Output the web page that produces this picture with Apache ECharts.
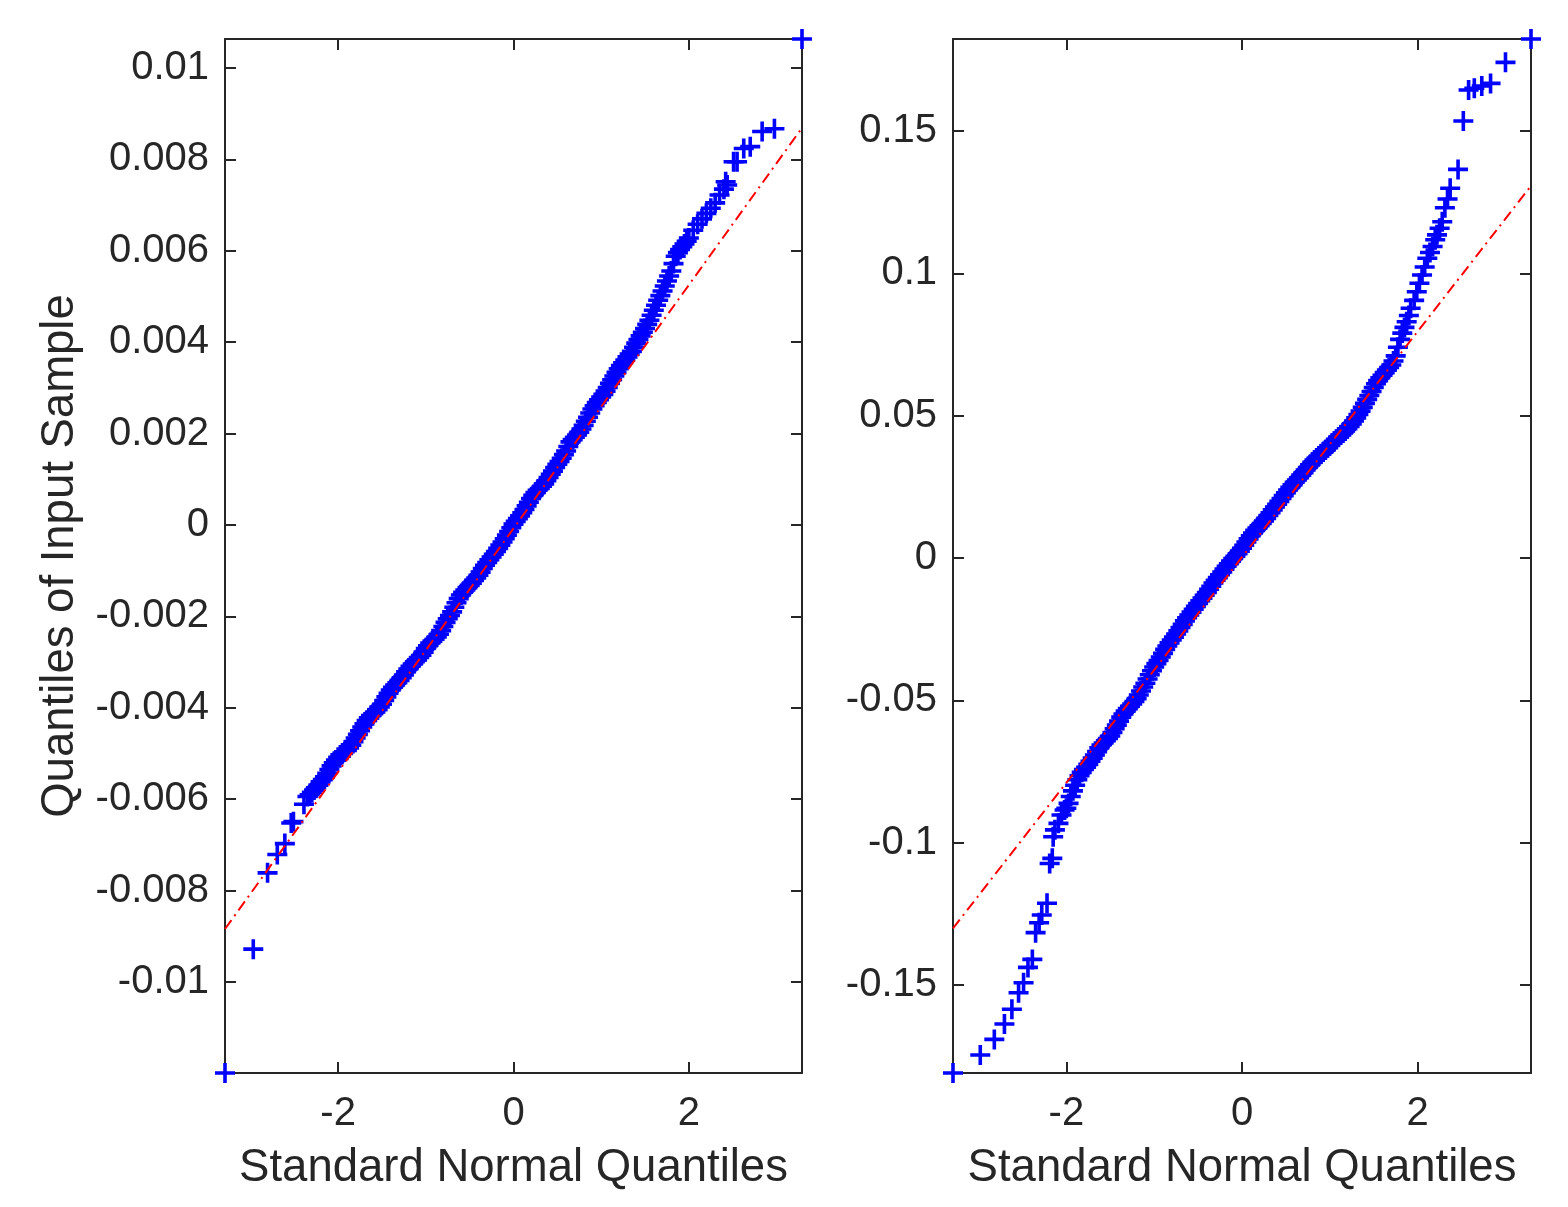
<!DOCTYPE html>
<html>
<head>
<meta charset="utf-8">
<style>
  html, body { margin: 0; padding: 0; background: #fff; }
  #container { width: 1568px; height: 1207px; }
</style>
<script src="https://cdn.jsdelivr.net/npm/echarts@6/dist/echarts.min.js"></script>
</head>
<body>
<div id="container"></div>
<script>
var dom = document.getElementById('container');
var myChart = echarts.init(dom, null, { renderer: 'canvas' });

// x range of the theoretical quantiles (n = 1000)
const xMin = -3.2905;
const xMax = 3.2905;
const xTicks = [-2, 0, 2];
const xTickLabels = ['-2', '0', '2'];

// left panel: sorted sample vs standard normal quantiles
const leftYTicks = [-0.01, -0.008, -0.006, -0.004, -0.002, 0, 0.002, 0.004, 0.006, 0.008, 0.01];
const leftYLabels = ['-0.01', '-0.008', '-0.006', '-0.004', '-0.002', '0', '0.002', '0.004', '0.006', '0.008', '0.01'];
const leftYMin = -0.01199;
const leftYMax = 0.010635;
const leftPoints = [
  [-3.2905, -0.01199], [-2.968, -0.00928], [-2.805, -0.00761], [-2.694, -0.00721],
  [-2.608, -0.00697], [-2.535, -0.00652], [-2.51, -0.00649], [-2.39, -0.00611],
  [-2.350, -0.00594], [-2.325, -0.00590], [-2.300, -0.00585], [-2.275, -0.00580],
  [-2.250, -0.00575], [-2.225, -0.00569], [-2.200, -0.00562], [-2.175, -0.00557],
  [-2.150, -0.00551], [-2.125, -0.00543], [-2.100, -0.00535], [-2.075, -0.00527],
  [-2.050, -0.00520], [-2.025, -0.00514], [-2.000, -0.00508], [-1.975, -0.00503],
  [-1.950, -0.00499], [-1.925, -0.00496], [-1.900, -0.00493], [-1.875, -0.00488],
  [-1.850, -0.00482], [-1.825, -0.00474], [-1.800, -0.00466], [-1.775, -0.00458],
  [-1.750, -0.00450], [-1.725, -0.00442], [-1.700, -0.00435], [-1.675, -0.00428],
  [-1.650, -0.00422], [-1.625, -0.00417], [-1.600, -0.00413], [-1.575, -0.00409],
  [-1.550, -0.00404], [-1.525, -0.00398], [-1.500, -0.00392], [-1.475, -0.00384],
  [-1.450, -0.00376], [-1.425, -0.00368], [-1.400, -0.00361], [-1.375, -0.00355],
  [-1.350, -0.00350], [-1.325, -0.00345], [-1.300, -0.00340], [-1.275, -0.00334],
  [-1.250, -0.00328], [-1.225, -0.00321], [-1.200, -0.00315], [-1.175, -0.00309],
  [-1.150, -0.00304], [-1.125, -0.00299], [-1.100, -0.00295], [-1.075, -0.00290],
  [-1.050, -0.00285], [-1.025, -0.00278], [-1.000, -0.00270], [-0.975, -0.00264],
  [-0.950, -0.00258], [-0.925, -0.00254], [-0.900, -0.00250], [-0.875, -0.00245],
  [-0.850, -0.00239], [-0.825, -0.00231], [-0.800, -0.00222], [-0.775, -0.00213],
  [-0.750, -0.00205], [-0.725, -0.00198], [-0.700, -0.00190], [-0.675, -0.00180],
  [-0.650, -0.00170], [-0.625, -0.00161], [-0.600, -0.00153], [-0.575, -0.00147],
  [-0.550, -0.00142], [-0.525, -0.00137], [-0.500, -0.00132], [-0.475, -0.00127],
  [-0.450, -0.00121], [-0.425, -0.00116], [-0.400, -0.00110], [-0.375, -0.00103],
  [-0.350, -0.00095], [-0.325, -0.00088], [-0.300, -0.00082], [-0.275, -0.00076],
  [-0.250, -0.00070], [-0.225, -0.00064], [-0.200, -0.00058], [-0.175, -0.00051],
  [-0.150, -0.00044], [-0.125, -0.00037], [-0.100, -0.00030], [-0.075, -0.00022],
  [-0.050, -0.00014], [-0.025, -0.00006], [0.000, 0.00002], [0.025, 0.00008],
  [0.050, 0.00014], [0.075, 0.00020], [0.100, 0.00027], [0.125, 0.00034],
  [0.150, 0.00042], [0.175, 0.00050], [0.200, 0.00058], [0.225, 0.00065],
  [0.250, 0.00071], [0.275, 0.00076], [0.300, 0.00080], [0.325, 0.00085],
  [0.350, 0.00090], [0.375, 0.00097], [0.400, 0.00104], [0.425, 0.00111],
  [0.450, 0.00118], [0.475, 0.00126], [0.500, 0.00133], [0.525, 0.00139],
  [0.550, 0.00146], [0.575, 0.00154], [0.600, 0.00162], [0.625, 0.00172],
  [0.650, 0.00182], [0.675, 0.00187], [0.700, 0.00192], [0.725, 0.00197],
  [0.750, 0.00203], [0.775, 0.00210], [0.800, 0.00218], [0.825, 0.00227],
  [0.850, 0.00236], [0.875, 0.00245], [0.900, 0.00254], [0.925, 0.00261],
  [0.950, 0.00268], [0.975, 0.00274], [1.000, 0.00280], [1.025, 0.00286],
  [1.050, 0.00293], [1.075, 0.00301], [1.100, 0.00310], [1.125, 0.00318],
  [1.150, 0.00326], [1.175, 0.00334], [1.200, 0.00342], [1.225, 0.00349],
  [1.250, 0.00355], [1.275, 0.00361], [1.300, 0.00368], [1.325, 0.00374],
  [1.350, 0.00380], [1.375, 0.00389], [1.400, 0.00398], [1.425, 0.00406],
  [1.450, 0.00414], [1.475, 0.00422], [1.500, 0.00430], [1.525, 0.00439],
  [1.550, 0.00448], [1.575, 0.00459], [1.600, 0.00470], [1.625, 0.00481],
  [1.650, 0.00492], [1.675, 0.00502], [1.700, 0.00512], [1.725, 0.00523],
  [1.750, 0.00534], [1.775, 0.00545], [1.800, 0.00556], [1.825, 0.00572],
  [1.850, 0.00588], [1.875, 0.00596], [1.900, 0.00603], [1.925, 0.00609],
  [1.950, 0.00615], [1.975, 0.00621], [2.000, 0.00628], [2.050, 0.00645],
  [2.100, 0.00658], [2.150, 0.00670], [2.200, 0.00682], [2.250, 0.00693],
  [2.300, 0.00705], [2.350, 0.00722], [2.400, 0.00735], [2.42, 0.00751],
  [2.437, 0.00744], [2.51, 0.00795], [2.55, 0.00795], [2.626, 0.00824],
  [2.70, 0.00828], [2.836, 0.00861], [2.976, 0.00867], [3.2905, 0.010635]
];
// fitted reference line (through the quartiles), end points
const leftRefLine = [[-3.2905, -0.00884], [3.2905, 0.00869]];

// right panel
const rightYTicks = [-0.15, -0.1, -0.05, 0, 0.05, 0.1, 0.15];
const rightYLabels = ['-0.15', '-0.1', '-0.05', '0', '0.05', '0.1', '0.15'];
const rightYMin = -0.1809;
const rightYMax = 0.1823;
const rightPoints = [
  [-3.2905, -0.1809], [-2.98, -0.1746], [-2.82, -0.1691], [-2.705, -0.1637],
  [-2.62, -0.1585], [-2.544, -0.1527], [-2.487, -0.1492], [-2.437, -0.1438],
  [-2.387, -0.1410], [-2.35, -0.1316], [-2.31, -0.1281], [-2.28, -0.1254],
  [-2.22, -0.1213], [-2.19, -0.1073], [-2.16, -0.1055], [-2.15, -0.0979],
  [-2.13, -0.0955], [-2.09, -0.0932], [-2.055, -0.0903], [-2.02, -0.0885],
  [-2.000, -0.0879], [-1.975, -0.0862], [-1.950, -0.0838], [-1.925, -0.0818],
  [-1.900, -0.0798], [-1.875, -0.0779], [-1.850, -0.0765], [-1.825, -0.0753],
  [-1.800, -0.0743], [-1.775, -0.0735], [-1.750, -0.0725], [-1.725, -0.0714],
  [-1.700, -0.0703], [-1.675, -0.0692], [-1.650, -0.0680], [-1.625, -0.0667],
  [-1.600, -0.0657], [-1.575, -0.0650], [-1.550, -0.0642], [-1.525, -0.0634],
  [-1.500, -0.0625], [-1.475, -0.0613], [-1.450, -0.0600], [-1.425, -0.0587],
  [-1.400, -0.0573], [-1.375, -0.0559], [-1.350, -0.0548], [-1.325, -0.0538],
  [-1.300, -0.0529], [-1.275, -0.0521], [-1.250, -0.0513], [-1.225, -0.0504],
  [-1.200, -0.0494], [-1.175, -0.0481], [-1.150, -0.0467], [-1.125, -0.0453],
  [-1.100, -0.0440], [-1.075, -0.0425], [-1.050, -0.0410], [-1.025, -0.0396],
  [-1.000, -0.0383], [-0.975, -0.0371], [-0.950, -0.0360], [-0.925, -0.0348],
  [-0.900, -0.0335], [-0.875, -0.0321], [-0.850, -0.0309], [-0.825, -0.0298],
  [-0.800, -0.0288], [-0.775, -0.0278], [-0.750, -0.0267], [-0.725, -0.0256],
  [-0.700, -0.0244], [-0.675, -0.0233], [-0.650, -0.0221], [-0.625, -0.0210],
  [-0.600, -0.0200], [-0.575, -0.0190], [-0.550, -0.0180], [-0.525, -0.0170],
  [-0.500, -0.0160], [-0.475, -0.0150], [-0.450, -0.0141], [-0.425, -0.0131],
  [-0.400, -0.0121], [-0.375, -0.0110], [-0.350, -0.0099], [-0.325, -0.0088],
  [-0.300, -0.0078], [-0.275, -0.0069], [-0.250, -0.0059], [-0.225, -0.0049],
  [-0.200, -0.0039], [-0.175, -0.0029], [-0.150, -0.0020], [-0.125, -0.0011],
  [-0.100, -0.0002], [-0.075, 0.0006], [-0.050, 0.0015], [-0.025, 0.0024],
  [0.000, 0.0034], [0.025, 0.0045], [0.050, 0.0056], [0.075, 0.0067],
  [0.100, 0.0078], [0.125, 0.0088], [0.150, 0.0097], [0.175, 0.0105],
  [0.200, 0.0113], [0.225, 0.0121], [0.250, 0.0130], [0.275, 0.0139],
  [0.300, 0.0149], [0.325, 0.0159], [0.350, 0.0169], [0.375, 0.0179],
  [0.400, 0.0189], [0.425, 0.0199], [0.450, 0.0209], [0.475, 0.0219],
  [0.500, 0.0229], [0.525, 0.0239], [0.550, 0.0248], [0.575, 0.0257],
  [0.600, 0.0266], [0.625, 0.0274], [0.650, 0.0282], [0.675, 0.0291],
  [0.700, 0.0300], [0.725, 0.0309], [0.750, 0.0318], [0.775, 0.0327],
  [0.800, 0.0336], [0.825, 0.0344], [0.850, 0.0351], [0.875, 0.0358],
  [0.900, 0.0365], [0.925, 0.0372], [0.950, 0.0379], [0.975, 0.0387],
  [1.000, 0.0395], [1.025, 0.0403], [1.050, 0.0410], [1.075, 0.0417],
  [1.100, 0.0425], [1.125, 0.0432], [1.150, 0.0439], [1.175, 0.0446],
  [1.200, 0.0454], [1.225, 0.0462], [1.250, 0.0471], [1.275, 0.0481],
  [1.300, 0.0492], [1.325, 0.0504], [1.350, 0.0516], [1.375, 0.0529],
  [1.400, 0.0543], [1.425, 0.0557], [1.450, 0.0571], [1.475, 0.0585],
  [1.500, 0.0599], [1.525, 0.0612], [1.550, 0.0623], [1.575, 0.0633],
  [1.600, 0.0642], [1.625, 0.0651], [1.650, 0.0660], [1.675, 0.0669],
  [1.700, 0.0678], [1.725, 0.0692], [1.750, 0.0710], [1.775, 0.0740],
  [1.800, 0.0768], [1.825, 0.0790], [1.850, 0.0810], [1.875, 0.0830],
  [1.900, 0.0852], [1.92, 0.0877], [1.96, 0.0905], [1.99, 0.0935],
  [2.02, 0.0965], [2.05, 0.0994], [2.08, 0.1022], [2.11, 0.1053],
  [2.14, 0.1073], [2.17, 0.1094], [2.20, 0.1118], [2.22, 0.1135],
  [2.25, 0.1158], [2.28, 0.1181], [2.31, 0.1230], [2.34, 0.1261],
  [2.37, 0.1299], [2.46, 0.1365], [2.52, 0.1535], [2.58, 0.1644],
  [2.645, 0.1650], [2.73, 0.1658], [2.83, 0.1667], [3.00, 0.1741],
  [3.2905, 0.1823]
];
const rightRefLine = [[-3.2905, -0.1301], [3.2905, 0.1307]];

const axisColor = '#262626';
const fontFamily = '"Liberation Sans", Arial, Helvetica, sans-serif';
// plus marker, filled path
const plusSymbol = 'path://M0,8.2H20V11.8H0Z M8.2,0H11.8V20H8.2Z';

function labelFor(ticks, labels) {
  return function (v) {
    for (var i = 0; i < ticks.length; i++) {
      if (Math.abs(ticks[i] - v) < 1e-9) return labels[i];
    }
    return '';
  };
}

function makeAxis(gridIndex, position, min, max, ticks, labels, name, nameGap, margin) {
  var showLabels = !!labels;
  return {
    type: 'value',
    gridIndex: gridIndex,
    position: position,
    min: min,
    max: max,
    name: name || '',
    nameLocation: 'middle',
    nameGap: nameGap || 0,
    nameTextStyle: { fontFamily: fontFamily, fontSize: 45.5, color: axisColor },
    axisLine: { show: true, onZero: false, lineStyle: { color: axisColor, width: 2 } },
    axisTick: { show: true, inside: true, length: 11, customValues: ticks, lineStyle: { color: axisColor, width: 2 } },
    axisLabel: {
      show: showLabels,
      customValues: ticks,
      margin: margin || 8,
      fontFamily: fontFamily,
      fontSize: 40,
      color: axisColor,
      formatter: showLabels ? labelFor(ticks, labels) : ''
    },
    splitLine: { show: false }
  };
}

function scatterSeries(idx, points) {
  return {
    type: 'scatter',
    xAxisIndex: idx,
    yAxisIndex: idx,
    data: points,
    symbol: plusSymbol,
    symbolSize: 20,
    clip: false,
    itemStyle: { color: '#0000ff', opacity: 1 },
    silent: true
  };
}

function refLineSeries(idx, points) {
  return {
    type: 'line',
    xAxisIndex: idx,
    yAxisIndex: idx,
    data: points,
    symbol: 'none',
    lineStyle: { color: '#ff0000', width: 2, type: [11, 5, 2, 5] },
    silent: true
  };
}

var option = {
  animation: false,
  backgroundColor: '#ffffff',
  grid: [
    { left: 225, top: 39, width: 577, height: 1034 },
    { left: 953, top: 39, width: 578, height: 1034 }
  ],
  xAxis: [
    makeAxis(0, 'bottom', xMin, xMax, xTicks, xTickLabels, 'Standard Normal Quantiles', 72, 21),
    makeAxis(0, 'top', xMin, xMax, xTicks, null),
    makeAxis(1, 'bottom', xMin, xMax, xTicks, xTickLabels, 'Standard Normal Quantiles', 72, 21),
    makeAxis(1, 'top', xMin, xMax, xTicks, null)
  ],
  yAxis: [
    makeAxis(0, 'left', leftYMin, leftYMax, leftYTicks, leftYLabels, 'Quantiles of Input Sample', 142, 16),
    makeAxis(0, 'right', leftYMin, leftYMax, leftYTicks, null),
    makeAxis(1, 'left', rightYMin, rightYMax, rightYTicks, rightYLabels, '', 0, 16),
    makeAxis(1, 'right', rightYMin, rightYMax, rightYTicks, null)
  ],
  series: [
    scatterSeries(0, leftPoints),
    refLineSeries(0, leftRefLine),
    scatterSeries(2, rightPoints),
    refLineSeries(2, rightRefLine)
  ]
};

myChart.setOption(option);
window.addEventListener('resize', myChart.resize);
</script>
</body>
</html>
